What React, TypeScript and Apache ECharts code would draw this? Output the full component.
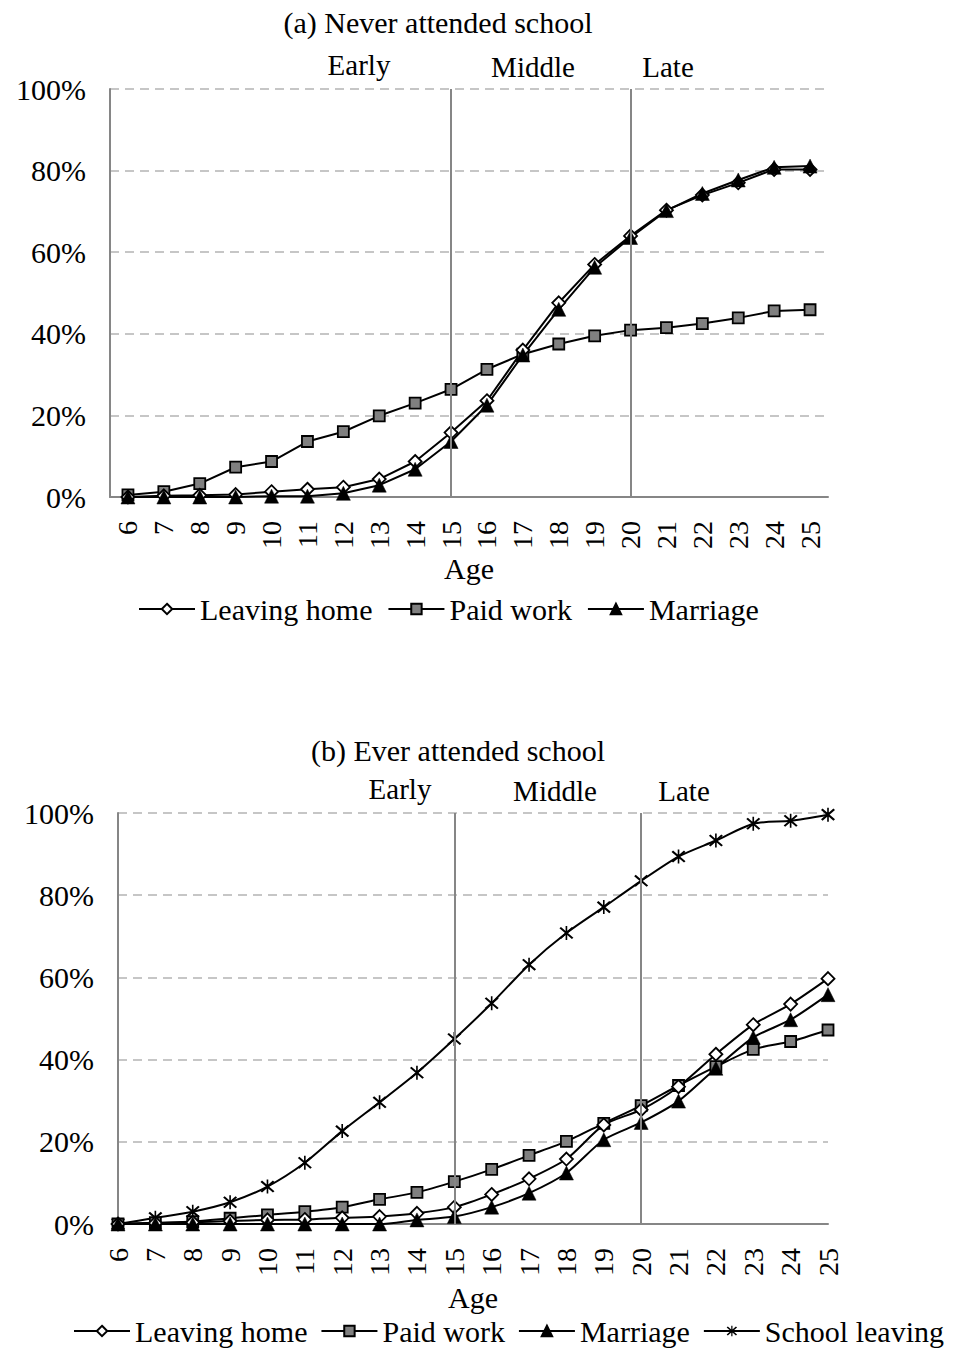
import React, { useEffect, useRef } from "react";
import * as echarts from "echarts";

const ages = ["6","7","8","9","10","11","12","13","14","15","16","17","18","19","20","21","22","23","24","25"];
const yTicks = [0, 20, 40, 60, 80, 100];
const phaseAges = ["15", "20"];

// Panel (a) Never attended school
const aLeaving = [0, 0.3, 0.4, 0.6, 1.3, 1.9, 2.4, 4.4, 8.7, 15.8, 23.6, 36.0, 47.6, 57.0, 64.0, 70.3, 74.0, 77.0, 80.3, 80.3];
const aPaid = [0.5, 1.3, 3.3, 7.3, 8.7, 13.6, 16.0, 19.9, 23.0, 26.4, 31.3, 35.0, 37.5, 39.5, 40.9, 41.5, 42.5, 43.9, 45.6, 45.9];
const aMarriage = [0, 0, 0, 0, 0.2, 0.2, 0.9, 2.9, 6.8, 13.6, 22.5, 34.8, 46.0, 56.3, 63.6, 70.2, 74.4, 77.7, 80.8, 81.1];

// Panel (b) Ever attended school
const bLeaving = [0, 0.2, 0.4, 0.7, 1.0, 1.1, 1.5, 1.8, 2.6, 4.1, 7.2, 11.0, 15.8, 24.1, 27.8, 33.4, 41.3, 48.5, 53.5, 59.7];
const bPaid = [0, 0.3, 0.6, 1.4, 2.2, 3.0, 4.1, 6.0, 7.7, 10.3, 13.3, 16.7, 20.1, 24.5, 28.8, 33.7, 38.3, 42.5, 44.4, 47.2];
const bMarriage = [0, 0, 0, 0, 0, 0, 0, 0, 1.0, 1.8, 4.1, 7.5, 12.4, 20.5, 24.7, 29.9, 37.9, 45.4, 49.7, 55.8];
const bSchool = [0, 1.5, 3.0, 5.3, 9.1, 14.9, 22.6, 29.6, 36.8, 45.0, 53.7, 63.1, 70.8, 77.1, 83.5, 89.4, 93.3, 97.4, 98.1, 99.6];

const seriesNamesA = ["Leaving home", "Paid work", "Marriage"];
const seriesNamesB = ["Leaving home", "Paid work", "Marriage", "School leaving"];

const FONT = "Liberation Serif";
const ASTERISK =
  "path://M9 0h2v20h-2z M1.4 3.3 L3.3 1.4 L18.6 16.7 L16.7 18.6 Z M16.7 1.4 L18.6 3.3 L3.3 18.6 L1.4 16.7 Z";

const styles: Record<string, any> = {
  "Leaving home": { symbol: "diamond", symbolSize: 13, itemStyle: { color: "#ffffff", borderColor: "#000", borderWidth: 1.8 } },
  "Paid work": { symbol: "rect", symbolSize: 11, itemStyle: { color: "#808080", borderColor: "#000", borderWidth: 1.8 } },
  "Marriage": { symbol: "triangle", symbolSize: 14, itemStyle: { color: "#000", borderColor: "#000", borderWidth: 0.5 } },
  "School leaving": { symbol: ASTERISK, symbolSize: 14, itemStyle: { color: "#000", borderColor: "#000", borderWidth: 0 } },
};

function makeSeries(name: string, data: number[], idx: number, smooth: number | boolean, withMark: boolean) {
  const s = styles[name];
  const out: any = {
    name,
    type: "line",
    xAxisIndex: idx,
    yAxisIndex: idx,
    data,
    symbol: s.symbol,
    symbolSize: s.symbolSize,
    showAllSymbol: true,
    smooth,
    itemStyle: s.itemStyle,
    lineStyle: { color: "#000", width: 2 },
    emphasis: { disabled: true },
  };
  if (withMark) {
    out.markLine = {
      silent: true,
      symbol: "none",
      label: { show: false },
      lineStyle: { color: "#868686", width: 2, type: "solid" },
      data: phaseAges.map((a) => ({ xAxis: a })),
    };
  }
  return out;
}

function xAxisCfg(gridIndex: number, boundaryGap: boolean, nameGap: number) {
  return {
    type: "category",
    gridIndex,
    data: ages,
    boundaryGap,
    name: "Age",
    nameLocation: "middle",
    nameGap,
    nameTextStyle: { fontFamily: FONT, fontSize: 30, color: "#000" },
    axisLine: { show: true, lineStyle: { color: "#868686", width: 2 } },
    axisTick: { show: false },
    axisLabel: { rotate: 90, margin: 24, fontFamily: FONT, fontSize: 28, color: "#000", interval: 0 },
    splitLine: { show: false },
  };
}

function yAxisCfg(gridIndex: number) {
  return {
    type: "value",
    gridIndex,
    min: yTicks[0],
    max: yTicks[yTicks.length - 1],
    interval: 20,
    axisLine: { show: true, lineStyle: { color: "#868686", width: 2 } },
    axisTick: { show: false },
    axisLabel: { margin: 24, fontFamily: FONT, fontSize: 30, color: "#000", formatter: "{value}%" },
    splitLine: { show: true, lineStyle: { color: "#b4b4b4", width: 1.5, type: [9, 6] } },
  };
}

function label(text: string, x: number, y: number, size = 30) {
  return {
    type: "text",
    x,
    y,
    silent: true,
    style: { text, fontFamily: FONT, fontSize: size, fill: "#000", align: "center", verticalAlign: "middle" },
  };
}

export default function App() {
  const ref = useRef<HTMLDivElement>(null);
  useEffect(() => {
    if (!ref.current) return;
    const chart = echarts.init(ref.current, undefined, { renderer: "svg" });
    const option: any = {
      animation: false,
      backgroundColor: "#ffffff",
      textStyle: { fontFamily: FONT, color: "#000" },
      grid: [
        { left: 110, top: 89, width: 718, height: 408, containLabel: false },
        { left: 118, top: 813, width: 710, height: 411, containLabel: false },
      ],
      xAxis: [xAxisCfg(0, true, 56), xAxisCfg(1, false, 58)],
      yAxis: [yAxisCfg(0), yAxisCfg(1)],
      legend: [
        {
          data: seriesNamesA,
          left: 133,
          top: 589,
          itemWidth: 56,
          itemHeight: 13,
          itemGap: 15,
          textStyle: { fontFamily: FONT, fontSize: 30, color: "#000" },
          selectedMode: false,
        },
        {
          data: seriesNamesB,
          left: 68,
          top: 1311,
          itemWidth: 56,
          itemHeight: 13,
          itemGap: 13,
          textStyle: { fontFamily: FONT, fontSize: 30, color: "#000" },
          selectedMode: false,
        },
      ],
      graphic: [
        label("(a) Never attended school", 438, 22),
        label("Early", 359, 65, 29),
        label("Middle", 533, 67, 29),
        label("Late", 668, 67, 29),
        label("(b) Ever attended school", 458, 750),
        label("Early", 400, 789, 29),
        label("Middle", 555, 791, 29),
        label("Late", 684, 791, 29),
      ],
      series: [
        makeSeries("Paid work", aPaid, 0, false, true),
        makeSeries("Leaving home", aLeaving, 0, false, false),
        makeSeries("Marriage", aMarriage, 0, false, false),
        makeSeries("School leaving", bSchool, 1, 0.25, true),
        makeSeries("Paid work", bPaid, 1, 0.25, false),
        makeSeries("Leaving home", bLeaving, 1, 0.25, false),
        makeSeries("Marriage", bMarriage, 1, 0.25, false),
      ],
    };
    chart.setOption(option);
    return () => chart.dispose();
  }, []);
  return (
    <div
      ref={ref}
      style={{ position: "absolute", left: 0, top: 0, width: 955, height: 1351, background: "#fff" }}
    />
  );
}
